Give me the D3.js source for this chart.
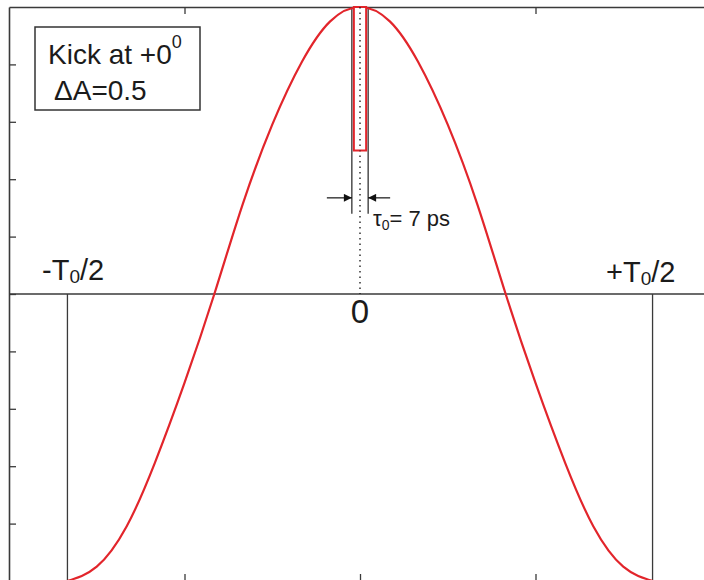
<!DOCTYPE html>
<html>
<head>
<meta charset="utf-8">
<script src="https://cdn.jsdelivr.net/npm/d3@7"></script>
<style>
  html, body { margin: 0; padding: 0; background: #ffffff; }
  svg { display: block; }
  text { font-family: "Liberation Sans", Arial, sans-serif; fill: #1b1b1b; }
</style>
</head>
<body>
<svg id="chart" width="704" height="580"></svg>
<script>
// RF waveform over one period T0 (time in ps, amplitude normalised)
const timePs = [-167, -150, -133, -117, -100, -83, -67, -50, -33, -17, 0,
                 17, 33, 50, 67, 83, 100, 117, 133, 150, 167];
const amplitude = [-1, -0.95, -0.81, -0.59, -0.31, 0, 0.31, 0.59, 0.81, 0.95, 1,
                   0.95, 0.81, 0.59, 0.31, 0, -0.31, -0.59, -0.81, -0.95, -1];

// Kick parameters
const halfPeriod = [-166.7, 166.7];   // ±T0/2 in ps
const kickCentre = 0;                 // kick at +0°
const pulseWidth = 7;                 // τ0 in ps
const kickDepth = 0.5;                // ΔA

// Tick positions
const xTicks = [-100, 0, 100];
const yTicks = [-0.8, -0.6, -0.4, -0.2, 0, 0.2, 0.4, 0.6, 0.8];

const svg = d3.select("#chart");
const frame = { left: 9, right: 711, top: 7, bottom: 581 };

const x = d3.scaleLinear().domain([-200, 200]).range([frame.left, frame.right]);
const y = d3.scaleLinear().domain([-1, 1]).range([frame.bottom, frame.top]);

const ink = "#3a3a3a";

// Frame axes with inward ticks, no labels
const axes = [
  { gen: d3.axisLeft(y).tickValues(yTicks), t: `translate(${frame.left},0)` },
  { gen: d3.axisRight(y).tickValues(yTicks), t: `translate(${frame.right},0)` },
  { gen: d3.axisTop(x).tickValues(xTicks), t: `translate(0,${frame.top})` },
  { gen: d3.axisBottom(x).tickValues(xTicks), t: `translate(0,${frame.bottom})` }
];
axes.forEach(a => {
  const g = svg.append("g").attr("transform", a.t)
    .call(a.gen.tickSize(-7).tickSizeOuter(0).tickFormat(""));
  g.select(".domain").attr("stroke", ink).attr("stroke-width", 1.6);
  g.selectAll(".tick line").attr("stroke", ink).attr("stroke-width", 1.3);
});

// Zero line
svg.append("line")
  .attr("x1", frame.left).attr("x2", frame.right)
  .attr("y1", y(0)).attr("y2", y(0))
  .attr("stroke", ink).attr("stroke-width", 1.6);

// ±T0/2 markers
halfPeriod.forEach(t => {
  svg.append("line")
    .attr("x1", x(t)).attr("x2", x(t))
    .attr("y1", y(0)).attr("y2", y(-1))
    .attr("stroke", ink).attr("stroke-width", 1.3);
});

// Dotted centre line
svg.append("line")
  .attr("x1", x(kickCentre)).attr("x2", x(kickCentre))
  .attr("y1", y(1)).attr("y2", y(0))
  .attr("stroke", "#222").attr("stroke-width", 1.4)
  .attr("stroke-dasharray", "1.5,4");

// Pulse width guides
const guideBottom = 0.28;
const guideGap = 2;
[x(kickCentre - pulseWidth / 2) - guideGap, x(kickCentre + pulseWidth / 2) + guideGap]
  .forEach(gx => {
    svg.append("line")
      .attr("x1", gx).attr("x2", gx)
      .attr("y1", y(1)).attr("y2", y(guideBottom))
      .attr("stroke", "#222").attr("stroke-width", 1.2);
  });

// Arrow heads
const defs = svg.append("defs");
defs.append("marker")
  .attr("id", "head").attr("viewBox", "0 0 10 10")
  .attr("refX", 10).attr("refY", 5)
  .attr("markerWidth", 10).attr("markerHeight", 8)
  .attr("markerUnits", "userSpaceOnUse")
  .attr("orient", "auto")
  .append("path").attr("d", "M0,0 L10,5 L0,10 Z").attr("fill", "#111");

const arrowY = y(0.335);
const leftTip = x(kickCentre - pulseWidth / 2) - guideGap;
const rightTip = x(kickCentre + pulseWidth / 2) + guideGap;
svg.append("line")
  .attr("x1", leftTip - 25).attr("x2", leftTip)
  .attr("y1", arrowY).attr("y2", arrowY)
  .attr("stroke", "#111").attr("stroke-width", 1.2)
  .attr("marker-end", "url(#head)");
svg.append("line")
  .attr("x1", rightTip + 22).attr("x2", rightTip)
  .attr("y1", arrowY).attr("y2", arrowY)
  .attr("stroke", "#111").attr("stroke-width", 1.2)
  .attr("marker-end", "url(#head)");

// Waveform
const red = "#e2252b";
const line = d3.line()
  .x((d, i) => x(timePs[i]))
  .y(d => y(d))
  .curve(d3.curveNatural);
svg.append("path")
  .datum(amplitude)
  .attr("d", line)
  .attr("fill", "none")
  .attr("stroke", red)
  .attr("stroke-width", 2.2);

// Kick pulse
svg.append("rect")
  .attr("x", x(kickCentre - pulseWidth / 2))
  .attr("width", x(kickCentre + pulseWidth / 2) - x(kickCentre - pulseWidth / 2))
  .attr("y", y(1))
  .attr("height", y(1 - kickDepth) - y(1))
  .attr("fill", "#ffffff")
  .attr("stroke", red)
  .attr("stroke-width", 2);
svg.append("line")
  .attr("x1", x(kickCentre)).attr("x2", x(kickCentre))
  .attr("y1", y(1)).attr("y2", y(1 - kickDepth))
  .attr("stroke", "#222").attr("stroke-width", 1.4)
  .attr("stroke-dasharray", "1.5,4");

// Legend box
svg.append("rect")
  .attr("x", 35).attr("y", 27).attr("width", 165).attr("height", 83)
  .attr("fill", "#ffffff").attr("stroke", "#333").attr("stroke-width", 1.5);
const k = svg.append("text").attr("x", 48).attr("y", 64).style("font-size", "28px");
k.append("tspan").text("Kick at +0");
k.append("tspan").attr("dy", -16).style("font-size", "18px").text("0");
svg.append("text").attr("x", 54).attr("y", 100).style("font-size", "28px").text("ΔA=0.5");

// τ0 label
const tau = svg.append("text").attr("x", 373).attr("y", 226).style("font-size", "22px");
tau.append("tspan").text("τ");
tau.append("tspan").attr("dy", 4).style("font-size", "14px").text("0");
tau.append("tspan").attr("dy", -4).text("= 7 ps");

// Axis annotations
function halfLabel(sign, px, baseline) {
  const t = svg.append("text").attr("x", px).attr("y", baseline).style("font-size", "29px");
  t.append("tspan").text(sign + "T");
  t.append("tspan").attr("dy", 3).style("font-size", "19px").text("0");
  t.append("tspan").attr("dy", -3).text("/2");
}
halfLabel("-", 42, 280);
halfLabel("+", 606, 282);

svg.append("text")
  .attr("x", x(kickCentre)).attr("y", 323)
  .attr("text-anchor", "middle")
  .style("font-size", "33px")
  .text("0");
</script>
</body>
</html>
